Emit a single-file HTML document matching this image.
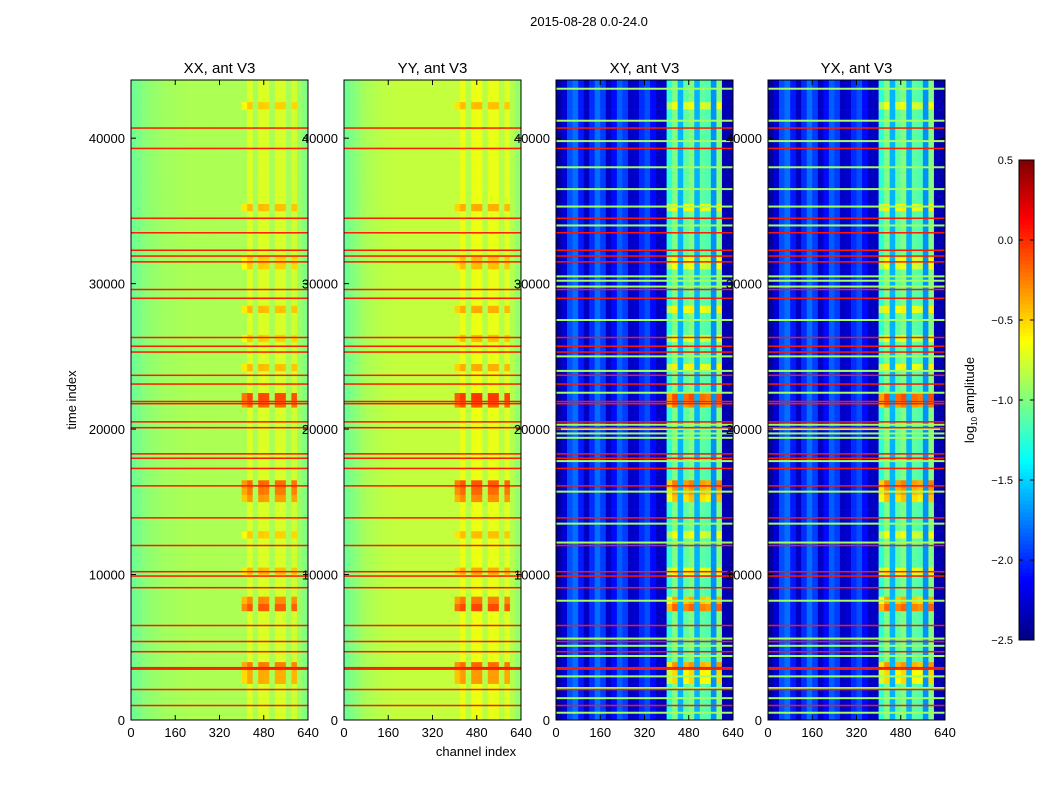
<!DOCTYPE html>
<html><head><meta charset="utf-8"><style>
body{margin:0;background:#fff;}
svg text{font-family:"Liberation Sans",sans-serif;fill:#000;}
</style></head><body>
<svg id="fig" width="1050" height="800" xmlns="http://www.w3.org/2000/svg">
<text x="589" y="26" font-size="13" text-anchor="middle">2015-08-28 0.0-24.0</text>
<text transform="translate(76,400) rotate(-90)" font-size="13" text-anchor="middle">time index</text>
<text x="476" y="756" font-size="13" text-anchor="middle">channel index</text>
<text transform="translate(974,400) rotate(-90)" font-size="13" text-anchor="middle">log<tspan font-size="8" dy="3">10</tspan><tspan dy="-3"> amplitude</tspan></text>
<g id="panels"></g>
<g id="cbar"></g>
</svg>
<script>
const xTicks=[0,160,320,480,640];
const yTicks=[0,10000,20000,30000,40000];
const cbTicks=[0.5,0.0,-0.5,-1.0,-1.5,-2.0,-2.5];
const panelTitles=["XX, ant V3","YY, ant V3","XY, ant V3","YX, ant V3"];
const xxCols=[-1.05,-1.02,-0.98,-0.95,-0.93,-0.91,-0.9,-0.89,-0.88,-0.88,-0.87,-0.87,-0.87,-0.87,-0.87,-0.87,-0.87,-0.87,-0.87,-0.87,-0.87,-0.72,-0.88,-0.72,-0.74,-0.88,-0.74,-0.74,-0.88,-0.76,-0.92,-1.0];
const yyCols=[-1.05,-1.0,-0.95,-0.9,-0.87,-0.85,-0.83,-0.82,-0.81,-0.8,-0.8,-0.8,-0.8,-0.8,-0.8,-0.8,-0.8,-0.8,-0.8,-0.8,-0.8,-0.68,-0.84,-0.68,-0.67,-0.84,-0.69,-0.69,-0.84,-0.72,-0.85,-0.95];
const xyCols=[-2.4,-2.25,-1.9,-1.8,-2.05,-2.3,-2.0,-1.8,-1.95,-2.3,-2.1,-1.85,-1.95,-2.3,-2.25,-2.0,-1.9,-2.1,-2.3,-2.3,-1.25,-1.0,-1.6,-1.1,-1.0,-1.6,-1.1,-1.15,-1.7,-1.0,-2.35,-2.35];
const burstT=[2500,3000,3500,7500,8000,10000,12500,15000,15500,16000,21500,22000,24000,26000,28000,31000,31500,35000,42000];
const burstA=[0.35,0.35,0.5,0.6,0.45,0.3,0.25,0.4,0.5,0.55,0.55,0.65,0.3,0.25,0.3,0.25,0.25,0.3,0.25];
const redT=[40700,39300,34500,33500,32300,31900,31500,29600,29000,26300,25700,25300,23700,23100,21900,21750,20500,20100,18300,18000,17300,16100,13900,12000,10200,9900,9100,6500,5400,4700,3600,3500,2100,1000];
const greenT=[43400,41200,39800,38000,36500,35300,34000,30500,30200,29800,27500,25000,24000,22500,20300,20000,19700,19400,17800,15700,13500,12200,8200,5600,5100,4400,3000,2200,1500,500];
const panelX=[131,344,556,768];
const PW=177,PT=80,PH=640,TMAX=44000,CMAX=640;
function jet(v){let t=(v+2.5)/3;t=Math.max(0,Math.min(1,t));
 const f=x=>Math.max(0,Math.min(1,1.5-Math.abs(4*t-x)));
 return `rgb(${Math.round(255*f(3))},${Math.round(255*f(2))},${Math.round(255*f(1))})`;}
const NS="http://www.w3.org/2000/svg";
function mk(tag,at,parent){const e=document.createElementNS(NS,tag);for(const k in at)e.setAttribute(k,at[k]);parent.appendChild(e);return e;}
const root=document.getElementById('panels');
const colSets=[xxCols,yyCols,xyCols,xyCols];
function burstAt(t0,t1){for(let i=0;i<burstT.length;i++){if(burstT[i]>=t0&&burstT[i]<t1)return burstA[i];}return 0;}
for(let p=0;p<4;p++){
 const x0=panelX[p];const cols=colSets[p];
 const sx=c=>x0+c/CMAX*PW; const sy=t=>PT+PH-t/TMAX*PH;
 const g=mk('g',{},root);
 
 
 const nC=cols.length,bw=CMAX/nC,bt=500;
 for(let r=0;r<TMAX/bt;r++){
  const t=r*bt,b=burstAt(t,t+bt);
  for(let c=0;c<nC;c++){
   const hot=(c>=20&&c<30&&(c%3!==1))?1:0;
   let v=cols[c]+hot*b*(p<2?1:1.4);
   const e=mk('rect',{x:sx(c*bw),y:sy(t+bt),width:sx((c+1)*bw)-sx(c*bw)+0.3,height:sy(t)-sy(t+bt)+0.3,fill:jet(v)},g);
   
   
  }
 }
 if(p>=2){for(const t of greenT){const e=mk('rect',{x:x0,y:sy(t)-1,width:PW,height:2,fill:jet(-0.9)},g);
   
   }}
 for(const t of redT){const e=mk('rect',{x:x0,y:sy(t)-0.7,width:PW,height:1.5,fill:jet(0.05)},g);
   
   }
 const fr=mk('rect',{x:x0,y:PT,width:PW,height:PH,fill:'none',stroke:'#000','stroke-width':1},g);
 
 
 const tt=mk('text',{x:x0+PW/2,y:PT-7,'font-size':15,'text-anchor':'middle'},g);tt.textContent=panelTitles[p];
 
 
 for(const v of xTicks){const x=sx(v);mk('line',{x1:x,x2:x,y1:PT+PH,y2:PT+PH-5,stroke:'#000'},g);mk('line',{x1:x,x2:x,y1:PT,y2:PT+5,stroke:'#000'},g);
  const l=mk('text',{x:x,y:PT+PH+17,'font-size':13,'text-anchor':'middle'},g);l.textContent=v;
  
  }
 for(const v of yTicks){const y=sy(v);mk('line',{x1:x0,x2:x0+5,y1:y,y2:y,stroke:'#000'},g);mk('line',{x1:x0+PW,x2:x0+PW-5,y1:y,y2:y,stroke:'#000'},g);
  const l=mk('text',{x:x0-6,y:y+5,'font-size':13,'text-anchor':'end'},g);l.textContent=v;
  
  }
}
const cb=document.getElementById('cbar');
const CX=1019,CW=15,CT=160,CB=640;
const cy=v=>CB-(v+2.5)/3*(CB-CT);
for(let i=0;i<120;i++){const v=-2.5+3*i/120;const e=mk('rect',{x:CX,y:cy(v+3/120),width:CW,height:(CB-CT)/120+0.5,fill:jet(v+1.5/120)},cb);
 
 }
const cf=mk('rect',{x:CX,y:CT,width:CW,height:CB-CT,fill:'none',stroke:'#000'},cb);


for(const v of cbTicks){const y=cy(v);mk('line',{x1:CX,x2:CX+4,y1:y,y2:y,stroke:'#000'},cb);mk('line',{x1:CX+CW,x2:CX+CW-4,y1:y,y2:y,stroke:'#000'},cb);
 const l=mk('text',{x:CX-6,y:y+4,'font-size':11,'text-anchor':'end'},cb);l.textContent=(v<0?'\u2212'+Math.abs(v).toFixed(1):v.toFixed(1));
 
 }
</script>
</body></html>
